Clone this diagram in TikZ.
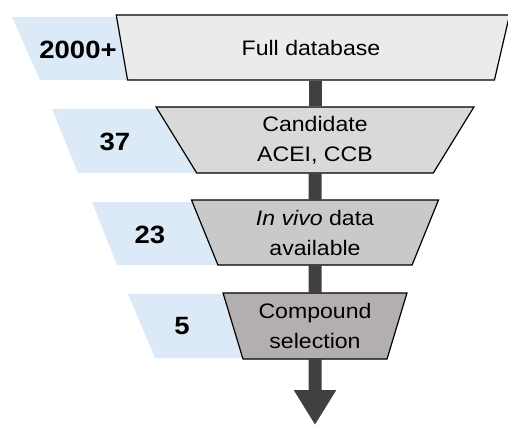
\documentclass[tikz,border=0pt]{standalone}
\usepackage{fontspec}
\setmainfont{Liberation Sans}[FakeStretch=1.1]
\usetikzlibrary{shapes.geometric,arrows.meta,backgrounds}

\definecolor{bandblue}{HTML}{DCE9F6}
\definecolor{stemgray}{HTML}{404040}

\tikzset{
  stage/.style={draw=black, line width=1.2pt, trapezium, shape border rotate=180,
    trapezium stretches=true, align=center, inner sep=0pt,
    font=\fontsize{21}{30}\selectfont},
  band/.style={fill=bandblue, draw=none},
  count/.style={font=\fontsize{25}{30}\selectfont\bfseries},
  stem/.style={draw=stemgray, line width=13pt},
}

\begin{document}
\begin{tikzpicture}[x=1pt,y=-1pt]
\useasboundingbox (0,0) rectangle (508,425);

% funnel stages
\node[stage, fill=black!8, minimum width=394pt, minimum height=65pt,
  trapezium left angle=69.7, trapezium right angle=74.5] (full) at (311,47.5) {Full database};
\node[stage, fill=black!15, minimum width=318pt, minimum height=66pt,
  trapezium angle=67.5] (cand) at (315,140) {Candidate\\ACEI, CCB};
\node[stage, fill=black!21, minimum width=247pt, minimum height=65pt,
  trapezium angle=70.5] (vivo) at (315,232.5) {\textit{In vivo} data\\available};
\node[stage, fill={rgb,255:red,180;green,175;blue,175}, minimum width=184pt,
  minimum height=66pt, trapezium angle=71] (sel) at (315,326) {Compound\\selection};
\coordinate (tip) at (315,425);

% counts
\node[count] (n1) at (78,50) {2000+};
\node[count] (n2) at (115,142) {37};
\node[count] (n3) at (150,235) {23};
\node[count] (n4) at (182,326) {5};

\begin{scope}[on background layer]
  \fill[band] (12,17) -- (300,17) -- (300,80) -- (40,80) -- cycle;
  \fill[band] (52,109) -- (300,109) -- (300,173) -- (78,173) -- cycle;
  \fill[band] (92,202) -- (300,202) -- (300,265) -- (117,265) -- cycle;
  \fill[band] (128,294) -- (300,294) -- (300,358) -- (155,358) -- cycle;
  \draw[stem] (full.south -| cand.north) -- (cand.north);
  \draw[stem] (cand.south) -- (vivo.north);
  \draw[stem] (vivo.south) -- (sel.north);
  \draw[stem, -{Triangle[width=40pt,length=35pt]}] (sel.south) -- (tip);
\end{scope}
\end{tikzpicture}
\end{document}
